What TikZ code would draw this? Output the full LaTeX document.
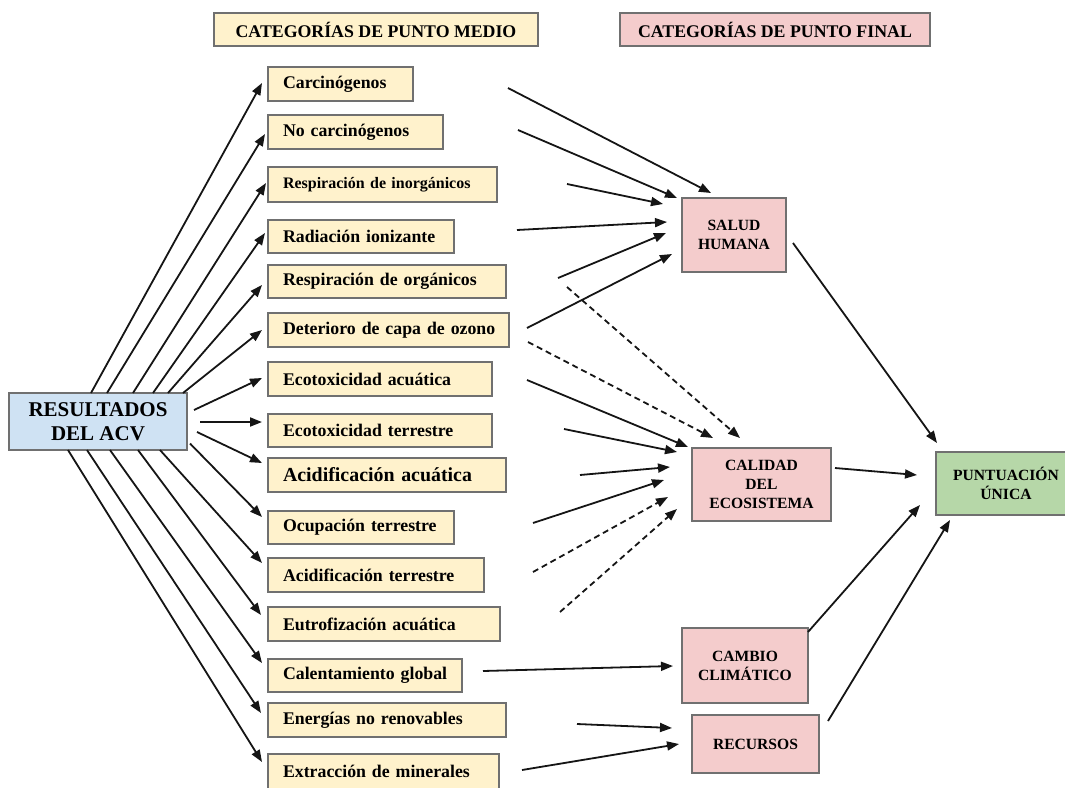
\documentclass[tikz,border=0pt]{standalone}
\usepackage{fontspec}
\setmainfont{Liberation Serif}
\usetikzlibrary{arrows.meta,calc}
\definecolor{midfill}{HTML}{FFF2CC}
\definecolor{endfill}{HTML}{F4CCCC}
\definecolor{scorefill}{HTML}{B6D7A8}
\definecolor{resfill}{HTML}{CFE2F3}
\definecolor{boxline}{HTML}{707070}
\definecolor{arrowline}{HTML}{151515}

\begin{document}
\begin{tikzpicture}[x=1pt,y=-1pt,
  box/.style={draw=boxline, line width=1.6pt, outer sep=0pt, inner sep=0pt},
  midbox/.style={box, fill=midfill, anchor=north west, align=left, inner xsep=15pt,
    font=\bfseries\fontsize{17.8}{21}\selectfont,
    execute at begin node={\hbox\bgroup}, execute at end node={\egroup}},
  endbox/.style={box, fill=endfill, align=center, font=\bfseries\fontsize{15.6}{19}\selectfont},
  arr/.style={draw=arrowline, line width=1.8pt, -{Triangle[length=12pt,width=9pt]}},
  darr/.style={arr, dash pattern=on 6pt off 4pt},
]
\useasboundingbox (0,0) rectangle (1065,787);

% column headers
\node[box, fill=midfill, minimum width=324, minimum height=33,
  font=\bfseries\fontsize{17.8}{21}\selectfont] (hmid) at (376,29.5) {CATEGORÍAS DE PUNTO MEDIO};
\node[box, fill=endfill, minimum width=310, minimum height=33,
  font=\bfseries\fontsize{17.8}{21}\selectfont] (hend) at (775,29.5) {CATEGORÍAS DE PUNTO FINAL};

% source node
\node[box, fill=resfill, minimum width=178, minimum height=57, align=center,
  font=\bfseries\fontsize{21}{24}\selectfont] (res) at (98,421.5) {RESULTADOS\\DEL ACV};

% midpoint categories
\node[midbox, text width=115, minimum height=34] (carc) at (268,67) {Carcinógenos};
\node[midbox, text width=145, minimum height=34] (nocarc) at (268,115) {No carcinógenos};
\node[midbox, text width=199, minimum height=35, font=\bfseries\fontsize{16}{19}\selectfont] (respinorg) at (268,167) {Respiración de inorgánicos};
\node[midbox, text width=156, minimum height=33] (rad) at (268,220) {Radiación ionizante};
\node[midbox, text width=208, minimum height=33] (resporg) at (268,265) {Respiración de orgánicos};
\node[midbox, text width=211, minimum height=34] (deter) at (268,313) {Deterioro de capa de ozono};
\node[midbox, text width=194, minimum height=34] (ecoacu) at (268,362) {Ecotoxicidad acuática};
\node[midbox, text width=194, minimum height=33] (ecoter) at (268,414) {Ecotoxicidad terrestre};
\node[midbox, text width=208, minimum height=34, font=\bfseries\fontsize{19.9}{23}\selectfont] (acidacu) at (268,458) {Acidificación acuática};
\node[midbox, text width=156, minimum height=33] (ocup) at (268,511) {Ocupación terrestre};
\node[midbox, text width=186, minimum height=34] (acidter) at (268,558) {Acidificación terrestre};
\node[midbox, text width=202, minimum height=34] (eutro) at (268,607) {Eutrofización acuática};
\node[midbox, text width=164, minimum height=33] (calent) at (268,659) {Calentamiento global};
\node[midbox, text width=208, minimum height=34] (energ) at (268,703) {Energías no renovables};
\node[midbox, text width=201, minimum height=35] (extr) at (268,754) {Extracción de minerales};

% endpoint categories
\node[endbox, minimum width=104, minimum height=74] (salud) at (734,235) {SALUD\\HUMANA};
\node[endbox, minimum width=139, minimum height=73] (calidad) at (761.5,484.5) {CALIDAD\\DEL\\ECOSISTEMA};
\node[endbox, minimum width=126, minimum height=75] (cambio) at (745,665.5) {CAMBIO\\CLIMÁTICO};
\node[endbox, minimum width=127, minimum height=58] (recursos) at (755.5,744) {RECURSOS};
\node[endbox, fill=scorefill, minimum width=140, minimum height=63] (punt) at (1006,483.5) {PUNTUACIÓN\\ÚNICA};

% fan from the results to each midpoint category
\draw[arr] ($(res.north west)+(82,0)$)  -- ($(carc.west)+(-6,-1)$);
\draw[arr] ($(res.north west)+(98,0)$)  -- ($(nocarc.west)+(-3,2)$);
\draw[arr] ($(res.north west)+(124,0)$) -- ($(respinorg.west)+(-2,-1.5)$);
\draw[arr] ($(res.north west)+(144,0)$) -- ($(rad.west)+(-3,-3.5)$);
\draw[arr] ($(res.north west)+(159,0)$) -- ($(resporg.west)+(-6,3.5)$);
\draw[arr] ($(res.north west)+(174,0)$) -- ($(deter.west)+(-6,0)$);
\draw[arr] ($(res.east)+(7,-11.5)$)     -- ($(ecoacu.west)+(-6,-1)$);
\draw[arr] ($(res.east)+(13,0.5)$)      -- ($(ecoter.west)+(-6,-8.5)$);
\draw[arr] ($(res.east)+(10,10.5)$)     -- ($(acidacu.west)+(-6,-12)$);
\draw[arr] ($(res.east)+(3,22)$)        -- ($(ocup.west)+(-6,-10.5)$);
\draw[arr] ($(res.south west)+(151,0)$) -- ($(acidter.west)+(-6,-12)$);
\draw[arr] ($(res.south west)+(129,0)$) -- ($(eutro.west)+(-7,-9)$);
\draw[arr] ($(res.south west)+(101,0)$) -- ($(calent.west)+(-6,-12.5)$);
\draw[arr] ($(res.south west)+(78,0)$)  -- ($(energ.west)+(-7,-7)$);
\draw[arr] ($(res.south west)+(59,0)$)  -- ($(extr.west)+(-6,-9.5)$);

% midpoint to human health
\draw[arr] ($(carc.east)+(95,4)$)        -- ($(salud.west)+(29,-42)$);
\draw[arr] ($(nocarc.east)+(75,-2)$)     -- ($(salud.west)+(-5,-37)$);
\draw[arr] ($(respinorg.east)+(70,-0.5)$) -- ($(salud.west)+(-19,-31)$);
\draw[arr] ($(rad.east)+(63,-6.5)$)      -- ($(salud.west)+(-15,-13)$);
\draw[arr] ($(resporg.east)+(52,-3.5)$)  -- ($(salud.west)+(-16,-2)$);
\draw[arr] ($(deter.east)+(18,-2)$)      -- ($(salud.west)+(-10,19)$);

% midpoint to ecosystem quality
\draw[darr] ($(resporg.east)+(61,5.5)$)  -- ($(calidad.west)+(48,-46.5)$);
\draw[darr] ($(deter.east)+(19,12)$)     -- ($(calidad.west)+(21,-46.5)$);
\draw[arr] ($(ecoacu.east)+(35,1)$)      -- ($(calidad.west)+(-4,-37.5)$);
\draw[arr] ($(ecoter.east)+(72,-1.5)$)   -- ($(calidad.west)+(-15,-32.5)$);
\draw[arr] ($(acidacu.east)+(74,0)$)     -- ($(calidad.west)+(-22,-17.5)$);
\draw[arr] ($(ocup.east)+(79,-4.5)$)     -- ($(calidad.west)+(-28,-4.5)$);
\draw[darr] ($(acidter.east)+(49,-3)$)   -- ($(calidad.west)+(-24,12.5)$);
\draw[darr] ($(eutro.east)+(60,-12)$)    -- ($(calidad.west)+(-15,24.5)$);

% climate change and resources
\draw[arr] ($(calent.east)+(21,-4.5)$)   -- ($(cambio.west)+(-9,0.5)$);
\draw[arr] ($(energ.east)+(71,4)$)       -- ($(recursos.west)+(-20,-16)$);
\draw[arr] ($(extr.east)+(23,-1.5)$)     -- ($(recursos.west)+(-13,0)$);

% endpoints to the single score
\draw[arr] ($(salud.east)+(7,8)$)            -- ($(punt.west)+(1,-40.5)$);
\draw[arr] ($(calidad.east)+(4,-16.5)$)      -- ($(punt.west)+(-19,-8.5)$);
\draw[arr] ($(cambio.north east)+(0,4)$)     -- ($(punt.west)+(-16,21.5)$);
\draw[arr] ($(recursos.east)+(9,-23)$)       -- ($(punt.west)+(14,36.5)$);
\end{tikzpicture}
\end{document}
